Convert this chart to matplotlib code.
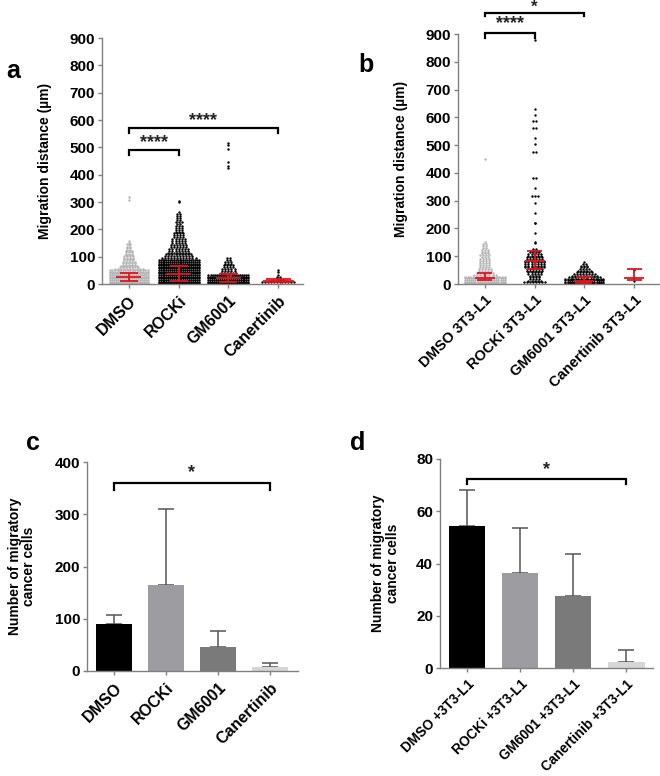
import numpy as np
import matplotlib
matplotlib.use("Agg")
import matplotlib.pyplot as plt

plt.rcParams["font.family"] = ["Liberation Sans", "DejaVu Sans"]
plt.rcParams["font.weight"] = "bold"

RED = "#e3131b"
AXIS_GRAY = "#808080"

# ---------------- panel a: migration distance (µm), dot levels + counts ----------------
cats_a = ["DMSO", "ROCKi", "GM6001", "Canertinib"]

dmso_a_levels = [3, 9, 15, 21, 27, 33, 39, 45, 51, 56, 61, 66, 71, 76, 81, 86, 91, 96,
                 101, 106, 111, 116, 121, 126, 131, 136, 141, 146, 151, 156, 308, 320]
dmso_a_counts = [20, 20, 20, 20, 20, 20, 20, 18, 16, 10, 7, 6, 5, 5, 5, 4, 4, 4,
                 4, 3, 3, 3, 3, 2, 2, 2, 1, 2, 1, 1, 1, 1]

rocki_a_levels = [3, 9, 15, 21, 27, 33, 39, 45, 51, 57, 63, 69, 75, 81, 87, 94, 101, 108,
                  115, 122, 129, 136, 143, 150, 157, 164, 171, 178, 185, 192,
                  199, 206, 213, 220, 227, 234, 241, 248, 255, 262, 300, 305]
rocki_a_counts = [22, 22, 22, 22, 22, 22, 22, 22, 22, 22, 22, 22, 22, 22, 22, 12, 10, 9,
                  8, 7, 7, 6, 6, 5, 5, 5, 4, 4, 4, 3,
                  3, 3, 3, 2, 3, 2, 2, 2, 2, 1, 1, 1]

gm_a_levels = [3, 9, 15, 21, 27, 33, 40, 47, 54, 61, 68, 75, 82, 89, 95,
               425, 430, 447, 494, 509, 516]
gm_a_counts = [22, 22, 22, 22, 22, 20, 6, 5, 5, 4, 4, 3, 3, 2, 2,
               1, 1, 1, 1, 1, 1]

can_a_levels = [6, 11, 16, 21, 27, 33, 44, 50]
can_a_counts = [12, 6, 4, 2, 2, 1, 1, 1]

# median, q1, q3
med_a = [25, 37, 22, 12]
q1_a = [12, 12, 8, 6]
q3_a = [42, 66, 35, 20]

# ---------------- panel b ----------------
cats_b = ["DMSO 3T3-L1", "ROCKi 3T3-L1", "GM6001 3T3-L1", "Canertinib 3T3-L1"]

dmso_b_levels = [3, 9, 15, 21, 27, 33, 40, 47, 54, 61, 68, 75, 82, 89, 96, 103,
                 110, 117, 124, 131, 138, 145, 152, 450]
dmso_b_counts = [20, 20, 20, 20, 16, 8, 6, 5, 5, 4, 4, 4, 4, 4, 3, 4,
                 3, 3, 3, 2, 2, 2, 1, 1]

rocki_b_levels = [6, 12, 18, 24, 30, 36, 42, 48, 54, 60, 66, 72, 78, 84, 90, 96,
                  102, 108, 114, 120, 126,
                  147, 151, 183, 218, 221, 255, 292, 318, 345, 383, 475, 504, 525,
                  562, 588, 608, 630, 878]
rocki_b_counts = [8, 5, 4, 4, 4, 5, 5, 6, 6, 7, 7, 7, 7, 7, 6, 6,
                  5, 5, 4, 3, 2,
                  1, 1, 1, 1, 1, 1, 1, 3, 1, 2, 2, 1, 1,
                  2, 2, 1, 1, 1]

gm_b_levels = [3, 8, 13, 18, 24, 30, 36, 42, 48, 54, 60, 66, 72, 79]
gm_b_counts = [18, 18, 18, 16, 11, 9, 8, 6, 5, 4, 3, 3, 2, 1]

can_b_levels = [12, 20, 52]
can_b_counts = [1, 1, 1]

med_b = [20, 82, 10, 20]
q1_b = [14, 55, 5, 15]
q3_b = [40, 118, 25, 53]

# ---------------- panels c, d: bar charts ----------------
cats_c = ["DMSO", "ROCKi", "GM6001", "Canertinib"]
mean_c = [90, 164, 45, 8]
sd_c = [17, 147, 31, 7]

cats_d = ["DMSO +3T3-L1", "ROCKi +3T3-L1", "GM6001 +3T3-L1", "Canertinib +3T3-L1"]
mean_d = [54.2, 36.4, 27.7, 2.4]
sd_d = [13.9, 17.0, 15.8, 4.4]

bar_colors = ["#000000", "#9d9da1", "#7a7a7a", "#d6d6d6"]


def px_axes(fig, left, right, top, bottom):
    W, H = 660.0, 776.0
    return fig.add_axes([left / W, 1 - bottom / H, (right - left) / W, (bottom - top) / H])


def style_axes(ax):
    for side in ["top", "right"]:
        ax.spines[side].set_visible(False)
    for side in ["left", "bottom"]:
        ax.spines[side].set_color(AXIS_GRAY)
        ax.spines[side].set_linewidth(1.0)
    ax.tick_params(axis="both", colors=AXIS_GRAY, length=3, width=1, labelcolor="black")
    ax.tick_params(axis="y", labelsize=11, pad=2)
    for lab in ax.get_yticklabels():
        lab.set_fontweight("bold")


def swarm(ax, center, levels, counts, color, maxw, dx=0.062):
    for lv, n in zip(levels, counts):
        offs = (np.arange(n) - (n - 1) / 2.0) * dx
        span = offs.max() - offs.min()
        if span > maxw:
            offs = offs * maxw / span
        ax.scatter(center + offs, np.full(n, lv), s=3.0, c=color, linewidths=0,
                   zorder=2, clip_on=False)


def iqr_bar(ax, center, med, q1, q3, w_med=0.5, w_cap=0.36):
    kw = dict(color=RED, lw=1.3, zorder=4, solid_capstyle="butt")
    ax.plot([center, center], [q1, q3], **kw)
    ax.plot([center - w_cap / 2, center + w_cap / 2], [q1, q1], **kw)
    ax.plot([center - w_cap / 2, center + w_cap / 2], [q3, q3], **kw)
    ax.plot([center - w_med / 2, center + w_med / 2], [med, med], **kw)


def bracket(ax, x0, x1, y, leg, text, ty, size=13):
    ax.plot([x0, x0, x1, x1], [y - leg, y, y, y - leg], color="black", lw=1.6,
            clip_on=False, zorder=5, solid_joinstyle="miter")
    ax.text((x0 + x1) / 2, ty, text, ha="center", va="center", fontsize=size,
            color="#222222", clip_on=False)


def cat_labels(ax, labels, size):
    ax.set_xticks(range(len(labels)))
    ax.set_xticklabels(labels, rotation=45, ha="right", va="top",
                       rotation_mode="anchor", fontsize=size, fontweight="bold")


fig = plt.figure(figsize=(6.6, 7.76), dpi=100)

# ---- a ----
ax_a = px_axes(fig, 102, 303, 38, 284)
swarm(ax_a, 0, dmso_a_levels, dmso_a_counts, "#b4b4b4", 0.76)
swarm(ax_a, 1, rocki_a_levels, rocki_a_counts, "black", 0.80)
swarm(ax_a, 2, gm_a_levels, gm_a_counts, "black", 0.80)
swarm(ax_a, 3, can_a_levels, can_a_counts, "black", 0.64)
for i in range(4):
    iqr_bar(ax_a, i, med_a[i], q1_a[i], q3_a[i],
            w_med=0.62 if i == 3 else 0.5, w_cap=0.5 if i == 3 else 0.36)
ax_a.set_xlim(-0.54, 3.5)
ax_a.set_ylim(0, 900)
ax_a.set_yticks(range(0, 901, 100))
style_axes(ax_a)
cat_labels(ax_a, cats_a, 11.5)
ax_a.set_ylabel("Migration distance (µm)", fontsize=10, fontweight="bold")
ax_a.yaxis.set_label_coords(-0.25, 0.5)
bracket(ax_a, 0, 1, 491, 18, "****", 516)
bracket(ax_a, 0, 3, 570, 16, "****", 598)

# ---- b ----
ax_b = px_axes(fig, 458, 659, 34, 284)
swarm(ax_b, 0, dmso_b_levels, dmso_b_counts, "#b4b4b4", 0.80)
swarm(ax_b, 1, rocki_b_levels, rocki_b_counts, "black", 0.50)
swarm(ax_b, 2, gm_b_levels, gm_b_counts, "black", 0.76)
swarm(ax_b, 3, can_b_levels, can_b_counts, "black", 0.3)
for i in range(4):
    iqr_bar(ax_b, i, med_b[i], q1_b[i], q3_b[i], w_med=0.4, w_cap=0.3)
ax_b.set_xlim(-0.54, 3.5)
ax_b.set_ylim(0, 900)
ax_b.set_yticks(range(0, 901, 100))
style_axes(ax_b)
cat_labels(ax_b, cats_b, 10.5)
ax_b.set_ylabel("Migration distance (µm)", fontsize=10, fontweight="bold")
ax_b.yaxis.set_label_coords(-0.25, 0.5)
bracket(ax_b, 0, 1, 904, 20, "****", 938)
bracket(ax_b, 0, 2, 975, 10, "*", 998, size=12)

# ---- c ----
ax_c = px_axes(fig, 87, 298, 462, 671)
xc = np.arange(len(cats_c))
ax_c.bar(xc, mean_c, width=0.68, color=bar_colors, zorder=2)
ax_c.errorbar(xc, mean_c, yerr=[np.zeros(4), sd_c], fmt="none", ecolor="#555555",
              elinewidth=1.1, capsize=6, capthick=1.1, zorder=1)
ax_c.set_xlim(-0.52, 3.54)
ax_c.set_ylim(0, 400)
ax_c.set_yticks(range(0, 401, 100))
style_axes(ax_c)
cat_labels(ax_c, cats_c, 11.5)
ax_c.set_ylabel("Number of migratory\ncancer cells", fontsize=10, fontweight="bold",
                linespacing=1.05)
ax_c.yaxis.set_label_coords(-0.24, 0.5)
bracket(ax_c, 0, 3, 360, 13, "*", 379)

# ---- d ----
ax_d = px_axes(fig, 440, 653, 459, 668)
xd = np.arange(len(cats_d))
ax_d.bar(xd, mean_d, width=0.68, color=bar_colors, zorder=2)
ax_d.errorbar(xd, mean_d, yerr=[np.zeros(4), sd_d], fmt="none", ecolor="#555555",
              elinewidth=1.1, capsize=6, capthick=1.1, zorder=1)
ax_d.set_xlim(-0.51, 3.5)
ax_d.set_ylim(0, 80)
ax_d.set_yticks(range(0, 81, 20))
style_axes(ax_d)
cat_labels(ax_d, cats_d, 9.8)
ax_d.set_ylabel("Number of migratory\ncancer cells", fontsize=10, fontweight="bold",
                linespacing=1.05)
ax_d.yaxis.set_label_coords(-0.19, 0.5)
bracket(ax_d, 0, 3, 72.2, 1.8, "*", 75.8)

# panel letters
for letter, x, y in [("a", 6, 78), ("b", 358, 72), ("c", 26, 450), ("d", 350, 450)]:
    fig.text(x / 660, 1 - y / 776, letter, fontsize=18, fontweight="bold",
             ha="left", va="baseline")

fig.savefig("out.png", dpi=100)
